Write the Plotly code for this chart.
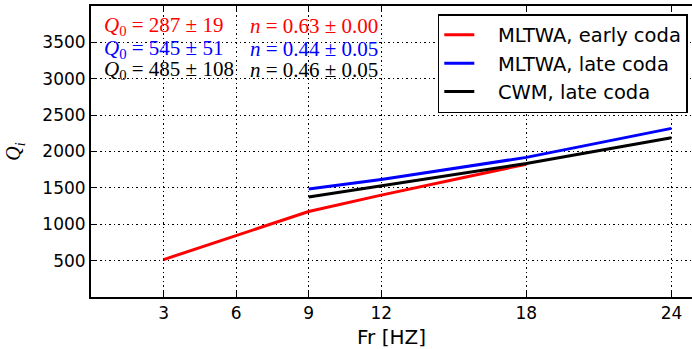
import plotly.graph_objects as go

# Data
freq_early = [3, 6, 9, 12, 18]
q_mltwa_early = [514, 848, 1175, 1400, 1826]
freq_late = [9, 12, 18, 24]
q_mltwa_late = [1486, 1616, 1919, 2318]
q_cwm_late = [1376, 1527, 1836, 2190]

series_names = ["MLTWA, early coda", "MLTWA, late coda", "CWM, late coda"]
series_colors = ["#ff0000", "#0000ff", "#000000"]

x_ticks = [3, 6, 9, 12, 18, 24]
y_ticks = [500, 1000, 1500, 2000, 2500, 3000, 3500]

fit_q0 = ["287 ± 19", "545 ± 51", "485 ± 108"]
fit_n = ["0.63 ± 0.00", "0.44 ± 0.05", "0.46 ± 0.05"]

pad = "\u00a0" * 3
fig = go.Figure()
for xs, ys, name, col in [
    (freq_early, q_mltwa_early, series_names[0], series_colors[0]),
    (freq_late, q_mltwa_late, series_names[1], series_colors[1]),
    (freq_late, q_cwm_late, series_names[2], series_colors[2]),
]:
    fig.add_trace(go.Scatter(x=xs, y=ys, mode="lines", name=pad + name,
                             line=dict(color=col, width=3)))

row_y = [0.93, 0.853, 0.779]
for i in range(3):
    fig.add_annotation(x=0.018, y=row_y[i], xref="paper", yref="paper",
                       xanchor="left", yanchor="middle", showarrow=False,
                       text="<i>Q</i><sub>0</sub> = " + fit_q0[i],
                       font=dict(family="Liberation Serif", size=21, color=series_colors[i]))
    fig.add_annotation(x=0.261, y=row_y[i], xref="paper", yref="paper",
                       xanchor="left", yanchor="middle", showarrow=False,
                       text="<i>n</i> = " + fit_n[i],
                       font=dict(family="Liberation Serif", size=21, color=series_colors[i]))

fig.update_layout(
    width=692, height=349,
    margin=dict(l=91, r=0, t=6, b=52),
    paper_bgcolor="white", plot_bgcolor="white",
    font=dict(family="DejaVu Sans", size=17, color="black"),
    showlegend=True,
    legend=dict(x=0.993, y=0.972, xanchor="right", yanchor="top",
                bordercolor="black", borderwidth=1.5, bgcolor="white",
                itemwidth=30,
                font=dict(family="DejaVu Sans", size=19.5)),
    xaxis=dict(range=[0, 24.85], tickvals=x_ticks, ticks="inside", ticklen=6,
               tickcolor="black", showline=True, linecolor="black", linewidth=2,
               mirror="ticks", showgrid=True, gridcolor="black", gridwidth=1,
               griddash="1.5px,3px", zeroline=False,
               title=dict(text="Fr [HZ]", standoff=9)),
    yaxis=dict(range=[0, 4000], tickvals=y_ticks, ticks="inside", ticklen=6,
               tickcolor="black", showline=True, linecolor="black", linewidth=2,
               showgrid=True, gridcolor="black", gridwidth=1,
               griddash="1.5px,3px", zeroline=False,
               title=dict(text="<i>Q</i><sub><i>i</i></sub>",
                          font=dict(family="Liberation Serif", size=20), standoff=16)),
)

fig.write_html("out.html")
